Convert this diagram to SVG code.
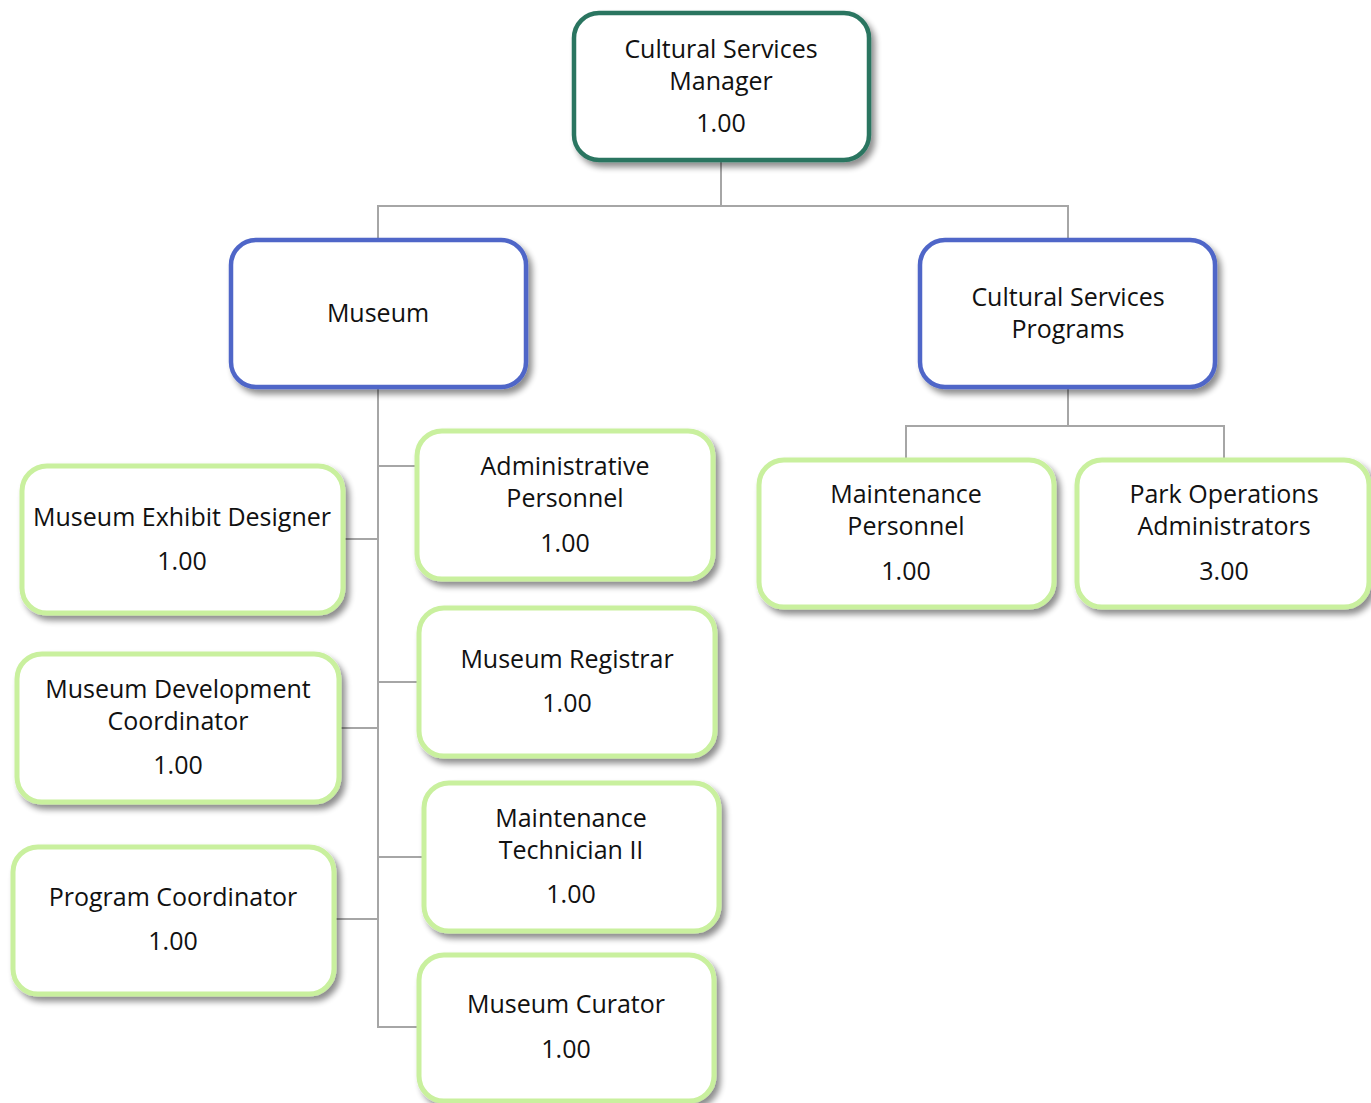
<svg xmlns="http://www.w3.org/2000/svg" width="1371" height="1103" viewBox="0 0 1371 1103">
<defs>
<filter id="sh" x="-10%" y="-10%" width="125%" height="130%">
<feGaussianBlur in="SourceAlpha" stdDeviation="3"/>
<feOffset dx="4" dy="5" result="b"/>
<feComponentTransfer in="b" result="c"><feFuncA type="linear" slope="0.45"/></feComponentTransfer>
<feMerge><feMergeNode in="c"/><feMergeNode in="SourceGraphic"/></feMerge>
</filter>
</defs>
<style>
.box{fill:#ffffff;filter:url(#sh);}
.top{stroke:#2b7561;stroke-width:4.5;}
.mid{stroke:#4f66c8;stroke-width:4.5;}
.leaf{stroke:#c9f09e;stroke-width:5;}
text{font-family:"Open Sans","Noto Sans",sans-serif;font-size:25px;fill:#111111;text-anchor:middle;}
.con{fill:none;stroke:#a6a6a6;stroke-width:2;}
</style>
<rect width="1371" height="1103" fill="#ffffff"/>
<g id="connectors">
<path class="con" d="M721 160V206M378 240V206H1068V240"/>
<path class="con" d="M1068 387V426M906 460V426H1224V460"/>
<path class="con" d="M378 387V1027H419M378 466H417M378 682H419M378 857H424M343 539H378M339 728H378M334 919H378"/>
</g>
<g id="n-csm">
<rect class="box top" x="574" y="13" width="295" height="147" rx="25"/>
<text x="721" y="58">Cultural Services</text>
<text x="721" y="90">Manager</text>
<text x="721" y="132">1.00</text>
</g>
<g id="n-museum">
<rect class="box mid" x="231" y="240" width="295" height="147" rx="25"/>
<text x="378" y="322">Museum</text>
</g>
<g id="n-csp">
<rect class="box mid" x="920" y="240" width="295" height="147" rx="25"/>
<text x="1068" y="306">Cultural Services</text>
<text x="1068" y="338">Programs</text>
</g>
<g id="n-admin">
<rect class="box leaf" x="417" y="431" width="296" height="148" rx="25"/>
<text x="565" y="475">Administrative</text>
<text x="565" y="507">Personnel</text>
<text x="565" y="552">1.00</text>
</g>
<g id="n-exhibit">
<rect class="box leaf" x="22" y="466" width="321" height="147" rx="25"/>
<text x="182" y="526">Museum Exhibit Designer</text>
<text x="182" y="570">1.00</text>
</g>
<g id="n-registrar">
<rect class="box leaf" x="419" y="608" width="296" height="148" rx="25"/>
<text x="567" y="668">Museum Registrar</text>
<text x="567" y="712">1.00</text>
</g>
<g id="n-devcoord">
<rect class="box leaf" x="17" y="654" width="322" height="148" rx="25"/>
<text x="178" y="698">Museum Development</text>
<text x="178" y="730">Coordinator</text>
<text x="178" y="774">1.00</text>
</g>
<g id="n-mtech">
<rect class="box leaf" x="424" y="783" width="295" height="148" rx="25"/>
<text x="571" y="827">Maintenance</text>
<text x="571" y="859">Technician II</text>
<text x="571" y="903">1.00</text>
</g>
<g id="n-progcoord">
<rect class="box leaf" x="13" y="847" width="321" height="147" rx="25"/>
<text x="173" y="906">Program Coordinator</text>
<text x="173" y="950">1.00</text>
</g>
<g id="n-curator">
<rect class="box leaf" x="419" y="955" width="295" height="146" rx="25"/>
<text x="566" y="1013">Museum Curator</text>
<text x="566" y="1058">1.00</text>
</g>
<g id="n-maintpers">
<rect class="box leaf" x="759" y="460" width="295" height="147" rx="25"/>
<text x="906" y="503">Maintenance</text>
<text x="906" y="535">Personnel</text>
<text x="906" y="580">1.00</text>
</g>
<g id="n-parkops">
<rect class="box leaf" x="1077" y="460" width="292" height="147" rx="25"/>
<text x="1224" y="503">Park Operations</text>
<text x="1224" y="535">Administrators</text>
<text x="1224" y="580">3.00</text>
</g>
</svg>
